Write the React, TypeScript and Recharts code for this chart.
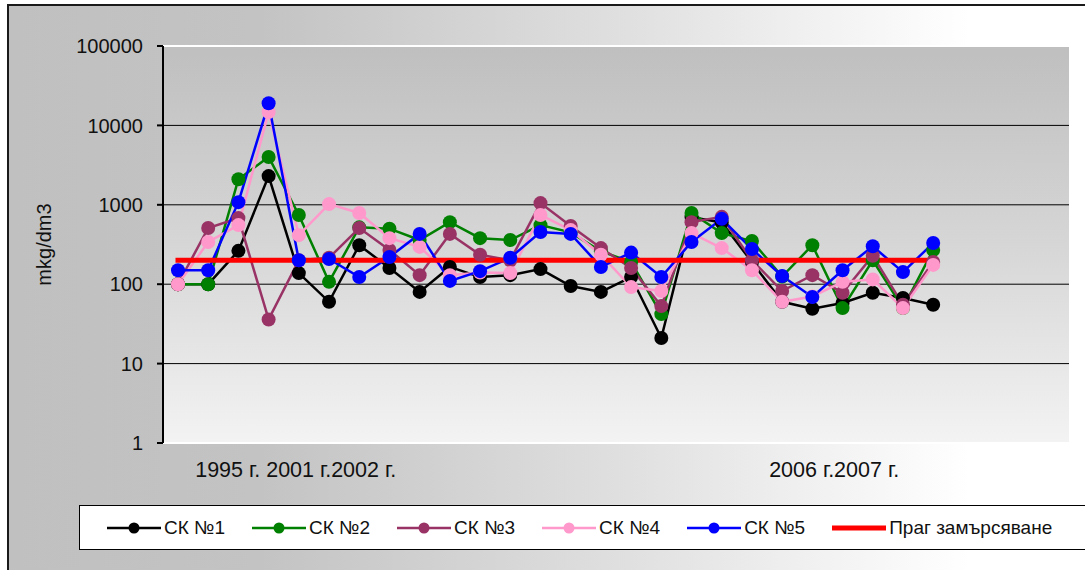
import React from 'react';
import { LineChart, Line, XAxis, YAxis, CartesianGrid, ReferenceLine } from 'recharts';

const FONT = '"Liberation Sans", Arial, sans-serif';

// 30 category slots on the axis; measurements occupy the first 26
const categoryCount = 30;
const tickLabels: Record<number, string> = {
  1: '1995 г. 2001 г.2002 г.',
  20: '2006 г.2007 г.',
};

const sk1 = [100, 100, 263, 2300, 138, 60, 310, 160, 80, 165, 123, 130, 155, 95, 80, 123, 21, 700, 600, 190, 60, 49, 58, 78, 67, 55];
const sk2 = [100, 100, 2100, 4000, 745, 107, 520, 500, 360, 605, 380, 360, 555, 450, 260, 190, 42, 790, 440, 350, 125, 310, 50, 200, 50, 270];
const sk3 = [100, 510, 680, 36, 200, 215, 510, 270, 130, 430, 235, 200, 1050, 540, 285, 160, 53, 605, 705, 200, 82, 130, 78, 228, 55, 190];
const sk4 = [100, 340, 555, 14700, 415, 1020, 790, 380, 295, 130, 140, 138, 745, 480, 235, 92, 82, 440, 285, 150, 60, 70, 107, 115, 50, 175];
const sk5 = [150, 150, 1080, 19000, 200, 208, 123, 220, 430, 110, 146, 215, 455, 430, 165, 250, 123, 340, 665, 277, 127, 69, 150, 300, 142, 330];
const threshold = [200, 200, 200, 200, 200, 200, 200, 200, 200, 200, 200, 200, 200, 200, 200, 200, 200, 200, 200, 200, 200, 200, 200, 200, 200, 200];

const yTicks = [1, 10, 100, 1000, 10000, 100000];

const series = [
  { key: 'sk1', name: 'СК №1', color: '#000000', values: sk1 },
  { key: 'sk2', name: 'СК №2', color: '#008000', values: sk2 },
  { key: 'sk3', name: 'СК №3', color: '#993366', values: sk3 },
  { key: 'sk4', name: 'СК №4', color: '#FF99CC', values: sk4 },
  { key: 'sk5', name: 'СК №5', color: '#0000FF', values: sk5 },
];
const thresholdSeries = { key: 'prag', name: 'Праг замърсяване', color: '#FF0000', values: threshold };

const data = Array.from({ length: categoryCount }, (_, i) => {
  const row: Record<string, any> = { cat: i };
  series.forEach((s) => {
    if (i < s.values.length) row[s.key] = s.values[i];
  });
  if (i < threshold.length) row[thresholdSeries.key] = threshold[i];
  return row;
});

const XTick = (props: any) => {
  const { x, y, payload } = props;
  const label = tickLabels[payload.value];
  if (!label) return null;
  return (
    <text x={x - 13} y={y + 34} textAnchor="start" fontSize={21.5} fontFamily={FONT} fill="#111">
      {label}
    </text>
  );
};

const YLabel = (props: any) => {
  const vb = props.viewBox || {};
  const cy = (vb.y || 0) + (vb.height || 0) / 2;
  const cx = 44;
  return (
    <text
      x={cx}
      y={cy}
      transform={`rotate(-90 ${cx} ${cy})`}
      textAnchor="middle"
      dominantBaseline="central"
      fontSize={20}
      fontFamily={FONT}
      fill="#111"
    >
      mkg/dm3
    </text>
  );
};

const LegendBox = () => (
  <div
    style={{
      position: 'absolute',
      left: 79,
      top: 505,
      width: 997,
      height: 43,
      background: '#fff',
      border: '1.5px solid #000',
      display: 'flex',
      alignItems: 'center',
      paddingLeft: 27,
      boxSizing: 'content-box',
      fontFamily: FONT,
      fontSize: 19,
      color: '#111',
    }}
  >
    {[...series, thresholdSeries].map((s) => (
      <div key={s.key} style={{ display: 'flex', alignItems: 'center', marginRight: 27 }}>
        <svg width={54} height={16} style={{ display: 'block' }}>
          <line x1={0} y1={8} x2={54} y2={8} stroke={s.color} strokeWidth={s.key === 'prag' ? 5 : 2.5} />
          {s.key !== 'prag' && <circle cx={27} cy={8} r={5.5} fill={s.color} />}
        </svg>
        <span style={{ marginLeft: 3, whiteSpace: 'nowrap' }}>{s.name}</span>
      </div>
    ))}
  </div>
);

export default function App() {
  return (
    <div
      style={{
        position: 'absolute',
        left: 0,
        top: 0,
        width: 1085,
        height: 570,
        overflow: 'hidden',
        fontFamily: FONT,
      }}
    >
      <div
        style={{
          position: 'absolute',
          left: 7,
          top: 4,
          width: 1200,
          height: 700,
          borderLeft: '2px solid #1a1a1a',
          borderTop: '2px solid #1a1a1a',
          background: 'linear-gradient(to right, #c0c0c0 0px, #c3c3c3 250px, #e0e0e0 620px, #ffffff 960px)',
        }}
      />
      <div style={{ position: 'absolute', left: 0, top: 0 }}>
        <LineChart width={1085} height={570} data={data} margin={{ top: 46, right: 16, bottom: 0, left: 0 }}>
          <defs>
            <linearGradient id="plotBg" x1="0" y1="0" x2="0" y2="1">
              <stop offset="0%" stopColor="#bfbfbf" />
              <stop offset="50%" stopColor="#d6d6d6" />
              <stop offset="100%" stopColor="#f3f3f3" />
            </linearGradient>
          </defs>
          <CartesianGrid vertical={false} stroke="#000" strokeWidth={1} fill="url(#plotBg)" fillOpacity={1} />
          <XAxis
            dataKey="cat"
            type="category"
            scale="point"
            padding={{ left: 15, right: 15 }}
            axisLine={false}
            tickLine={false}
            tickSize={0}
            tickMargin={0}
            interval={0}
            height={127}
            tick={<XTick />}
          />
          <YAxis
            type="number"
            scale="log"
            domain={[1, 100000]}
            ticks={yTicks}
            allowDataOverflow
            width={163}
            tickSize={6}
            tickMargin={14}
            axisLine={{ stroke: '#000', strokeWidth: 2 }}
            tickLine={{ stroke: '#000', strokeWidth: 2 }}
            tick={{ fontSize: 20, fill: '#111', fontFamily: FONT }}
            label={<YLabel />}
          />
          <ReferenceLine y={100000} stroke="#ffffff" strokeWidth={2} />
          <ReferenceLine y={1} stroke="#ffffff" strokeWidth={2} />
          {series.map((s) => (
            <Line
              key={s.key}
              dataKey={s.key}
              name={s.name}
              stroke={s.color}
              strokeWidth={2.5}
              dot={{ r: 7, fill: s.color, stroke: s.color, strokeWidth: 0 }}
              activeDot={false}
              isAnimationActive={false}
              connectNulls={false}
            />
          ))}
          <Line
            dataKey={thresholdSeries.key}
            name={thresholdSeries.name}
            stroke={thresholdSeries.color}
            strokeWidth={5}
            strokeLinecap="square"
            dot={false}
            activeDot={false}
            isAnimationActive={false}
          />
        </LineChart>
      </div>
      <LegendBox />
    </div>
  );
}
